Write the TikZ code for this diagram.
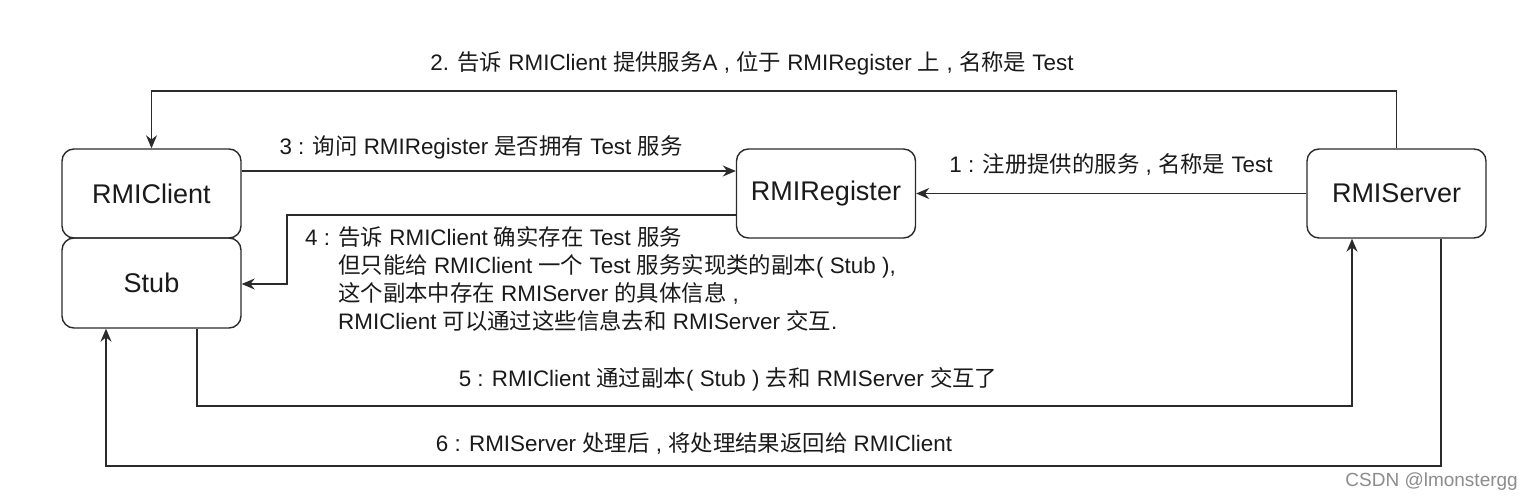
\documentclass[tikz,border=0pt]{standalone}
\usepackage{fontspec}
\setmainfont{Liberation Sans}
\newfontfamily\cjkfont{Noto Sans CJK SC}
\newcommand{\zh}[1]{{\cjkfont #1}}
\usetikzlibrary{arrows.meta,calc}
\definecolor{ln}{HTML}{2B2B2B}
\definecolor{tx}{HTML}{1A1A1A}
\tikzset{
  box/.style={draw=ln, line width=1.4pt, rounded corners=12pt, minimum width=179pt, minimum height=89pt, inner sep=0pt, text=tx, font=\fontsize{27}{31}\selectfont},
  lbl/.style={text=tx, inner sep=0pt, font=\fontsize{22.4}{28}\selectfont},
  arr/.style={draw=ln, line width=1.4pt, -{Stealth[length=13pt,width=11pt]}},
  ln/.style={draw=ln, line width=1.4pt}
}
\begin{document}
\begin{tikzpicture}[x=1pt,y=-1pt]
\useasboundingbox[fill=white] (0,0) rectangle (1534,502);
\node[box] (cli) at (151.5,193.5) {RMIClient};
\node[box, minimum height=90pt] (stub) at (151.5,283) {Stub};
\node[box] (reg) at (826,193.5) {RMIRegister};
\node[box] (srv) at (1396.5,193.5) {RMIServer};
\coordinate (c2) at (1396.5,91);
\coordinate (c4) at (287,215);
\coordinate (c5) at (700,406);
\coordinate (c6) at (700,466);
% 2
\draw[arr] (srv.north) -- (c2) -| (cli.north);
% 3
\draw[arr] ([yshift=22.5pt]cli.east) -- ([yshift=22.5pt]reg.west);
% 1
\draw[arr] (srv.west) -- (reg.east);
% 4
\draw[arr] ([yshift=-21.5pt]reg.west) -| (c4) |- ([yshift=-1pt]stub.east);
% 5
\draw[arr] ([xshift=45.5pt]stub.south) |- (c5) -| ([xshift=-44.5pt]srv.south);
% 6
\draw[arr] ([xshift=44.5pt]srv.south) |- (c6) -| ([xshift=-45.5pt]stub.south);
% labels
\node[lbl] (l2) at (752,63) {2. \zh{告诉} RMIClient \zh{提供服务}A , \zh{位于} RMIRegister \zh{上} , \zh{名称是} Test};
\node[lbl] (l3) at (481,147) {3 : \zh{询问} RMIRegister \zh{是否拥有} Test \zh{服务}};
\node[lbl] (l1) at (1111,164) {1 : \zh{注册提供的服务} , \zh{名称是} Test};
\node[lbl, anchor=west, align=left] (l4) at (305,278.5) {4 : \zh{告诉} RMIClient \zh{确实存在} Test \zh{服务}\\
\hspace*{33pt}\zh{但只能给} RMIClient \zh{一个} Test \zh{服务实现类的副本}( Stub ),\\
\hspace*{33pt}\zh{这个副本中存在} RMIServer \zh{的具体信息} ,\\
\hspace*{33pt}RMIClient \zh{可以通过这些信息去和} RMIServer \zh{交互}.};
\node[lbl] (l5) at (728,379) {5 : RMIClient \zh{通过副本}( Stub ) \zh{去和} RMIServer \zh{交互了}};
\node[lbl] (l6) at (694,444) {6 : RMIServer \zh{处理后} , \zh{将处理结果返回给} RMIClient};
\node[text=black!45, inner sep=0pt, anchor=east, font=\fontsize{19}{21}\selectfont] (wm) at (1518,482) {CSDN @lmonstergg};
\end{tikzpicture}
\end{document}
